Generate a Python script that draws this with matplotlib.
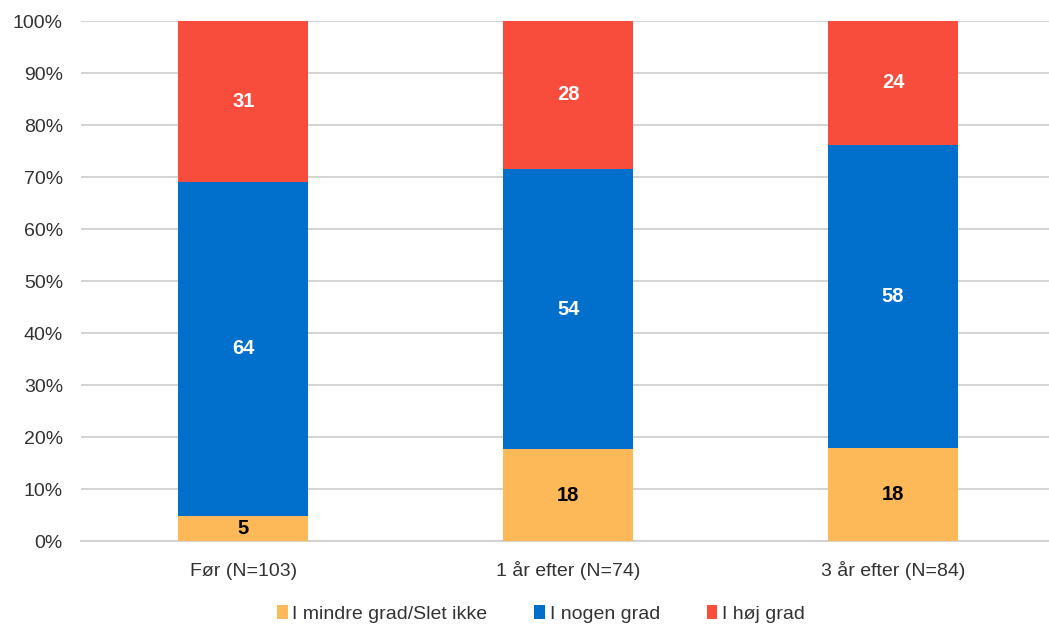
import matplotlib
matplotlib.use("Agg")
import matplotlib.pyplot as plt
import numpy as np
from matplotlib.ticker import FuncFormatter

plt.rcParams['font.family'] = ['Liberation Sans', 'DejaVu Sans']

categories = ["Før (N=103)", "1 år efter (N=74)", "3 år efter (N=84)"]
series_names = ["I mindre grad/Slet ikke", "I nogen grad", "I høj grad"]
low = [4.9, 17.6, 17.9]
mid = [64.1, 54.0, 58.3]
high = [31.1, 28.4, 23.8]
colors = ["#FDB858", "#0070CC", "#F84C3C"]
label_colors = ["black", "white", "white"]

W, H = 1049, 628
fig = plt.figure(figsize=(W / 100, H / 100), dpi=100)
ax = fig.add_axes([81 / W, (H - 541) / H, (W - 81) / W, (541 - 21) / H])

x = np.arange(len(categories))
bottom = np.zeros(len(categories))
for vals, c, lc, name in zip([low, mid, high], colors, label_colors, series_names):
    vals = np.array(vals)
    ax.bar(x, vals, width=0.4, bottom=bottom, color=c, label=name, zorder=3)
    for xi, b, v in zip(x, bottom, vals):
        ax.text(xi, b + v / 2, f"{round(v):d}", ha="center", va="center",
                color=lc, fontsize=14.5, fontweight="bold", zorder=4)
    bottom = bottom + vals

ax.set_xlim(-0.5, 2.48)
ax.set_ylim(0, 100)
ax.set_yticks(np.arange(0, 101, 10))
ax.yaxis.set_major_formatter(FuncFormatter(lambda v, p: f"{int(v)}%"))
ax.set_xticks(x)
ax.set_xticklabels([])
for xi, cat in zip(x, categories):
    ax.text(xi, -(576 - 541) / 520 * 100, cat, ha="center", va="baseline",
            fontsize=14, color="#333333", clip_on=False)
ax.tick_params(axis="both", length=0, labelsize=14, colors="#333333")
ax.tick_params(axis="y", pad=13)
ax.grid(axis="y", color="#D0D0D0", linewidth=1.3, zorder=0)
for s in ["top", "right", "left"]:
    ax.spines[s].set_visible(False)
ax.spines["bottom"].set_color("#D0D0D0")
ax.spines["bottom"].set_linewidth(1.3)

leg = fig.legend(loc="center", bbox_to_anchor=(541 / W, 1 - 614 / H), ncol=3,
                 frameon=False, fontsize=14, handlelength=0.55, handleheight=0.7,
                 handletextpad=0.25, columnspacing=2.4)
for t in leg.get_texts():
    t.set_color("#333333")

fig.savefig("out.png", dpi=100)
